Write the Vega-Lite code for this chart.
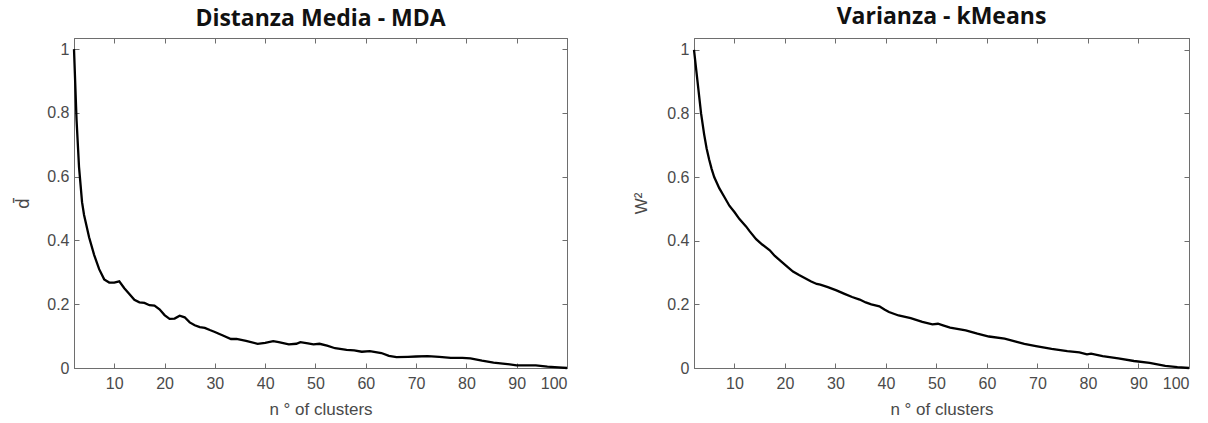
{
  "$schema": "https://vega.github.io/schema/vega-lite/v6.json",
  "background": "white",
  "padding": {"left": 14, "top": 5, "right": 10, "bottom": 5},
  "spacing": 59,
  "datasets": {
    "mda": [
      {"n": 2, "v": 1.0}, {"n": 2.5, "v": 0.78}, {"n": 3, "v": 0.63}, {"n": 3.6, "v": 0.52}, {"n": 4, "v": 0.48},
      {"n": 5, "v": 0.41}, {"n": 6, "v": 0.355}, {"n": 7, "v": 0.31}, {"n": 8, "v": 0.278},
      {"n": 9, "v": 0.268}, {"n": 10, "v": 0.268}, {"n": 11, "v": 0.272}, {"n": 12, "v": 0.25},
      {"n": 13, "v": 0.232}, {"n": 14, "v": 0.214}, {"n": 15, "v": 0.206}, {"n": 16, "v": 0.204},
      {"n": 17, "v": 0.197}, {"n": 18, "v": 0.196}, {"n": 19, "v": 0.184}, {"n": 20, "v": 0.166},
      {"n": 21, "v": 0.154}, {"n": 22, "v": 0.155}, {"n": 23, "v": 0.164}, {"n": 24, "v": 0.159},
      {"n": 25, "v": 0.143}, {"n": 26, "v": 0.134}, {"n": 27, "v": 0.128}, {"n": 28, "v": 0.126},
      {"n": 29, "v": 0.119}, {"n": 30, "v": 0.113}, {"n": 31.6, "v": 0.102}, {"n": 33.2, "v": 0.091},
      {"n": 34.3, "v": 0.091}, {"n": 36.2, "v": 0.085}, {"n": 38.5, "v": 0.076}, {"n": 40, "v": 0.079},
      {"n": 41.6, "v": 0.084}, {"n": 42.7, "v": 0.081}, {"n": 44.7, "v": 0.074}, {"n": 46.2, "v": 0.076},
      {"n": 47, "v": 0.081}, {"n": 48.5, "v": 0.077}, {"n": 49.6, "v": 0.074}, {"n": 50.8, "v": 0.076},
      {"n": 52.3, "v": 0.07}, {"n": 53.9, "v": 0.062}, {"n": 56.2, "v": 0.057}, {"n": 57.7, "v": 0.055},
      {"n": 59.2, "v": 0.051}, {"n": 60.8, "v": 0.053}, {"n": 63.1, "v": 0.047}, {"n": 64.6, "v": 0.038},
      {"n": 66.1, "v": 0.034}, {"n": 68.4, "v": 0.035}, {"n": 70, "v": 0.036}, {"n": 72.3, "v": 0.037},
      {"n": 74.6, "v": 0.035}, {"n": 76.9, "v": 0.032}, {"n": 79.2, "v": 0.032}, {"n": 80.8, "v": 0.03},
      {"n": 83.1, "v": 0.023}, {"n": 85.4, "v": 0.017}, {"n": 87.7, "v": 0.013}, {"n": 90, "v": 0.0085},
      {"n": 92.3, "v": 0.0085}, {"n": 93.8, "v": 0.0085}, {"n": 96.1, "v": 0.004}, {"n": 98.3, "v": 0.002},
      {"n": 100, "v": 0.0}
    ],
    "km": [
      {"n": 2, "v": 1.0}, {"n": 2.7, "v": 0.9}, {"n": 3.4, "v": 0.8}, {"n": 4, "v": 0.735}, {"n": 4.5, "v": 0.69},
      {"n": 5, "v": 0.655}, {"n": 5.5, "v": 0.625}, {"n": 6, "v": 0.6}, {"n": 7, "v": 0.565}, {"n": 8.1, "v": 0.535}, {"n": 9, "v": 0.51},
      {"n": 10, "v": 0.49}, {"n": 11, "v": 0.468}, {"n": 12.3, "v": 0.445}, {"n": 13, "v": 0.43},
      {"n": 14.3, "v": 0.405}, {"n": 15.5, "v": 0.388}, {"n": 17, "v": 0.37}, {"n": 18, "v": 0.352},
      {"n": 19.3, "v": 0.334}, {"n": 20.5, "v": 0.318}, {"n": 21.6, "v": 0.303}, {"n": 22.8, "v": 0.292},
      {"n": 24, "v": 0.282}, {"n": 25.2, "v": 0.272}, {"n": 26.3, "v": 0.264}, {"n": 27, "v": 0.262},
      {"n": 28.5, "v": 0.254}, {"n": 30.2, "v": 0.244}, {"n": 31.8, "v": 0.233}, {"n": 33.3, "v": 0.223},
      {"n": 34.8, "v": 0.215}, {"n": 36, "v": 0.206}, {"n": 37.1, "v": 0.2}, {"n": 38.7, "v": 0.194},
      {"n": 39.7, "v": 0.184}, {"n": 40.6, "v": 0.176}, {"n": 42.5, "v": 0.165}, {"n": 44.9, "v": 0.157},
      {"n": 47.2, "v": 0.145}, {"n": 49.2, "v": 0.137}, {"n": 50.3, "v": 0.139}, {"n": 51.3, "v": 0.134},
      {"n": 52.7, "v": 0.127}, {"n": 55.8, "v": 0.118}, {"n": 58.1, "v": 0.108}, {"n": 60.4, "v": 0.099},
      {"n": 63.5, "v": 0.092}, {"n": 65.9, "v": 0.082}, {"n": 67.4, "v": 0.076}, {"n": 69.7, "v": 0.069},
      {"n": 72.8, "v": 0.06}, {"n": 75.9, "v": 0.053}, {"n": 78.3, "v": 0.049}, {"n": 79.8, "v": 0.043},
      {"n": 80.6, "v": 0.045}, {"n": 82.9, "v": 0.037}, {"n": 86, "v": 0.03}, {"n": 89.1, "v": 0.022},
      {"n": 92.2, "v": 0.016}, {"n": 95.3, "v": 0.007}, {"n": 97.7, "v": 0.003}, {"n": 100, "v": 0.0}
    ]
  },
  "config": {
    "view": {"stroke": "#6e6e6e", "strokeWidth": 1},
    "axis": {
      "grid": false,
      "labelFont": "Liberation Sans",
      "labelFontSize": 16,
      "labelColor": "#4a4a4a",
      "titleFont": "Liberation Sans",
      "titleFontSize": 17,
      "titleFontWeight": "normal",
      "titleColor": "#4a4a4a",
      "domainColor": "#6e6e6e",
      "tickColor": "#6e6e6e",
      "tickSize": -5
    },
    "title": {"font": "Open Sans", "fontSize": 23, "fontWeight": "bold", "color": "#111111", "offset": 3}
  },
  "hconcat": [
    {
      "title": {"text": "Distanza Media - MDA", "offset": 7},
      "width": 493,
      "height": 330,
      "data": {"name": "mda"},
      "layer": [
        {
          "mark": {"type": "line", "color": "black", "strokeWidth": 2.3},
          "encoding": {
            "x": {"field": "n", "type": "quantitative", "scale": {"domain": [2, 100], "nice": false, "zero": false},
                  "axis": {"values": [10, 20, 30, 40, 50, 60, 70, 80, 90, 100], "title": "n ° of clusters", "labelPadding": 12, "titlePadding": 10}},
            "y": {"field": "v", "type": "quantitative", "scale": {"domain": [0, 1.035], "nice": false},
                  "axis": {"values": [0, 0.2, 0.4, 0.6, 0.8, 1], "format": "~g", "title": "d̄", "titleFont": "DejaVu Sans", "labelPadding": 10, "titlePadding": 14}}
          }
        },
        {
          "mark": {"type": "point", "opacity": 0},
          "encoding": {
            "x": {"field": "n", "type": "quantitative", "axis": {"orient": "top", "values": [10, 20, 30, 40, 50, 60, 70, 80, 90, 100], "labels": false, "title": null}},
            "y": {"field": "v", "type": "quantitative", "axis": {"orient": "right", "values": [0, 0.2, 0.4, 0.6, 0.8, 1], "labels": false, "title": null}}
          }
        }
      ],
      "resolve": {"axis": {"x": "independent", "y": "independent"}}
    },
    {
      "title": {"text": "Varianza - kMeans", "offset": 9},
      "width": 495,
      "height": 330,
      "data": {"name": "km"},
      "layer": [
        {
          "mark": {"type": "line", "color": "black", "strokeWidth": 2.3},
          "encoding": {
            "x": {"field": "n", "type": "quantitative", "scale": {"domain": [2, 100], "nice": false, "zero": false},
                  "axis": {"values": [10, 20, 30, 40, 50, 60, 70, 80, 90, 100], "title": "n ° of clusters", "labelPadding": 12, "titlePadding": 10}},
            "y": {"field": "v", "type": "quantitative", "scale": {"domain": [0, 1.037], "nice": false},
                  "axis": {"values": [0, 0.2, 0.4, 0.6, 0.8, 1], "format": "~g", "title": "W²", "labelPadding": 10, "titlePadding": 16}}
          }
        },
        {
          "mark": {"type": "point", "opacity": 0},
          "encoding": {
            "x": {"field": "n", "type": "quantitative", "axis": {"orient": "top", "values": [10, 20, 30, 40, 50, 60, 70, 80, 90, 100], "labels": false, "title": null}},
            "y": {"field": "v", "type": "quantitative", "axis": {"orient": "right", "values": [0, 0.2, 0.4, 0.6, 0.8, 1], "labels": false, "title": null}}
          }
        }
      ],
      "resolve": {"axis": {"x": "independent", "y": "independent"}}
    }
  ]
}
